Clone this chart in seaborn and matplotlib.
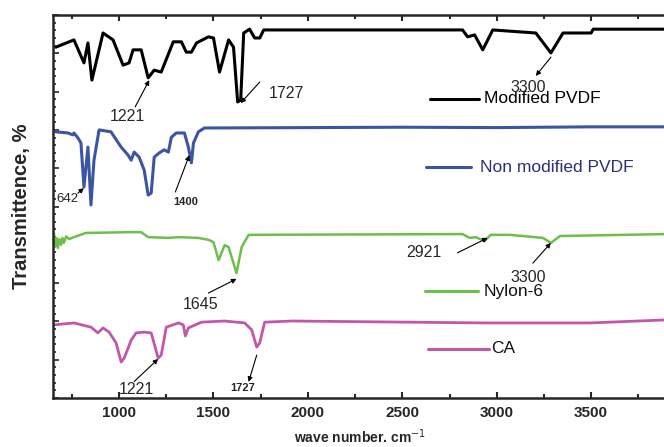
import matplotlib
matplotlib.use("Agg")
import matplotlib.pyplot as plt
import seaborn as sns
import pandas as pd
from matplotlib.ticker import MultipleLocator

# wave number (cm-1) and transmittance (%, stacked offsets)
mod_wn = [665, 761, 814, 835, 856, 915, 968, 1021, 1053, 1074, 1117, 1154, 1186, 1223,
          1287, 1330, 1356, 1383, 1410, 1473, 1500, 1532, 1580, 1606, 1628, 1644, 1660,
          1691, 1718, 1745, 1766, 2819, 2846, 2883, 2926, 2979, 3207, 3287, 3351, 3500,
          3511, 3900]
mod_t = [91.6, 93.5, 87.5, 92.7, 83.0, 95.3, 93.5, 86.9, 87.5, 90.9, 90.9, 83.6, 85.6, 85.1,
         93.0, 93.0, 90.3, 90.3, 92.7, 94.3, 94.0, 85.1, 93.5, 91.6, 77.3, 77.8, 95.3,
         96.3, 94.0, 94.0, 96.1, 96.1, 94.3, 94.8, 90.9, 96.1, 95.3, 90.1, 95.3, 95.3,
         96.3, 96.3]

non_wn = [665, 729, 755, 761, 782, 798, 814, 835, 851, 867, 894, 957, 1011, 1048, 1064,
          1080, 1106, 1133, 1154, 1170, 1186, 1213, 1239, 1261, 1277, 1303, 1346, 1367,
          1383, 1394, 1420, 1452, 2000, 2500, 3000, 3500, 3900]
non_t = [69.5, 69.2, 68.7, 69.2, 67.9, 66.6, 55.1, 65.5, 50.4, 62.1, 70.0, 69.5, 65.5, 63.4,
         62.1, 64.2, 62.9, 59.5, 53.0, 53.5, 62.9, 64.0, 64.8, 64.2, 68.1, 69.2, 69.2, 65.5,
         61.4, 66.6, 69.5, 70.5, 70.6, 70.7, 70.6, 70.8, 70.8]

nyl_wn = [655, 662, 668, 676, 684, 692, 700, 707, 720, 735, 761, 824, 1064, 1117, 1154,
          1261, 1314, 1420, 1473, 1500, 1527, 1559, 1580, 1622, 1649, 1686, 2819, 2856,
          2888, 2936, 2968, 3069, 3245, 3287, 3335, 3900]
nyl_t = [43.0, 39.5, 41.8, 39.2, 41.5, 40.0, 41.8, 40.5, 42.2, 41.5, 42.0, 43.1, 43.3, 43.3,
         42.0, 41.8, 42.0, 41.8, 41.3, 40.7, 36.0, 39.9, 39.4, 32.6, 39.4, 42.6, 42.8, 41.8,
         42.0, 41.0, 42.6, 42.6, 41.8, 40.5, 42.3, 42.8]

ca_wn = [655, 761, 851, 888, 915, 947, 984, 1011, 1027, 1064, 1090, 1133, 1170, 1207, 1223,
         1250, 1314, 1340, 1351, 1367, 1436, 1559, 1665, 1702, 1729, 1745, 1771, 1915,
         2941, 3495, 3900]
ca_t = [19.1, 19.6, 18.5, 17.0, 18.3, 17.2, 14.4, 9.4, 10.4, 15.1, 17.0, 17.2, 17.0, 10.4,
        11.2, 18.5, 19.6, 19.1, 16.2, 18.3, 19.8, 20.1, 19.6, 17.8, 13.3, 14.4, 19.8, 20.1,
        19.6, 19.6, 20.4]

names = ["Modified PVDF", "Non modified PVDF", "Nylon-6", "CA"]
colors = ["#000000", "#3b55a5", "#6cc04a", "#c456a9"]
widths = [2.2, 2.2, 1.8, 2.0]
label_colors = ["#000000", "#2b2f78", "#111111", "#111111"]
# label positions: (line start, line end, text x, y)
label_pos = [(2649, 2905, 2931, 78.1), (2626, 2865, 2914, 60.3),
             (2622, 2899, 2931, 27.9), (2638, 2958, 2968, 12.8)]

# (text, text xy, arrow tail, arrow head, size, weight)
peaks = [("1221", (1043, 73.6), (1085, 76.0), (1160, 83.0), 11.5, "normal"),
         ("1727", (1888, 79.6), (1745, 82.5), (1644, 77.0), 11.5, "normal"),
         ("3300", (3165, 81.2), (3287, 89.0), (3207, 84.1), 11.5, "normal"),
         ("642", (729, 52.0), (782, 53.5), (814, 54.8), 9.5, "normal"),
         ("1400", (1351, 51.2), (1298, 53.8), (1372, 63.4), 8, "bold"),
         ("1645", (1431, 24.3), (1473, 27.4), (1622, 31.1), 11.5, "normal"),
         ("2921", (2612, 37.9), (2792, 37.9), (2952, 41.8), 11.5, "normal"),
         ("3300", (3165, 31.5), (3191, 35.2), (3287, 40.5), 11.5, "normal"),
         ("1221", (1090, 2.3), (1080, 4.3), (1207, 10.2), 11.5, "normal"),
         ("1727", (1654, 2.6), (1729, 11.2), (1686, 4.2), 8, "bold")]

frames = []
for nm, wn, t in zip(names, [mod_wn, non_wn, nyl_wn, ca_wn], [mod_t, non_t, nyl_t, ca_t]):
    frames.append(pd.DataFrame({"wn": wn, "T": t, "sample": nm}))
df = pd.concat(frames, ignore_index=True)

sns.set_style("ticks")
plt.rcParams["font.family"] = ["Liberation Sans", "DejaVu Sans"]

fig = plt.figure(figsize=(6.64, 4.47), dpi=100)
ax = fig.add_axes([53 / 664, 1 - 398 / 447, 1 - 53 / 664 + 0.004, (398 - 15) / 447])

for nm, c, lw in zip(names, colors, widths):
    sns.lineplot(data=df[df["sample"] == nm], x="wn", y="T", color=c, lw=lw,
                 sort=False, estimator=None, ax=ax, legend=False)

for (x0, x1, xt, y), nm, c, lc, lw in zip(label_pos, names, colors, label_colors, widths):
    ax.plot([x0, x1], [y, y], color=c, lw=2.2)
    ax.text(xt, y, nm, color=lc, fontsize=12.5, va="center", ha="left")

for txt, xy, tail, head, fs, fw in peaks:
    ax.text(xy[0], xy[1], txt, fontsize=fs, fontweight=fw, ha="center", va="center")
    ax.annotate("", xy=head, xytext=tail,
                arrowprops=dict(arrowstyle="-|>", color="black", lw=0.8,
                                mutation_scale=7, shrinkA=0, shrinkB=0))

ax.set_xlim(650, 3900)
ax.set_ylim(0, 100)
ax.xaxis.set_major_locator(MultipleLocator(500))
ax.xaxis.set_minor_locator(MultipleLocator(250))
ax.yaxis.set_major_locator(MultipleLocator(10))
ax.yaxis.set_minor_locator(MultipleLocator(2))
ax.tick_params(axis="x", which="both", direction="in", top=True, width=1.5)
ax.tick_params(axis="x", which="major", length=4, labelsize=11, pad=6)
ax.tick_params(axis="x", which="minor", length=3)
ax.tick_params(axis="y", which="both", direction="in", labelleft=False, width=1.2)
ax.tick_params(axis="y", which="major", length=4)
ax.tick_params(axis="y", which="minor", length=2.5)
for lab in ax.get_xticklabels():
    lab.set_fontweight("bold")
for side in ["left", "bottom", "top"]:
    ax.spines[side].set_linewidth(1.8)
ax.spines["right"].set_visible(False)

ax.set_xlabel("wave number. cm$^{-1}$", fontsize=10, fontweight="bold", labelpad=5)
ax.set_ylabel("Transmittence, %", fontsize=14.5, fontweight="bold", labelpad=16)

fig.savefig("out.png", dpi=100)
